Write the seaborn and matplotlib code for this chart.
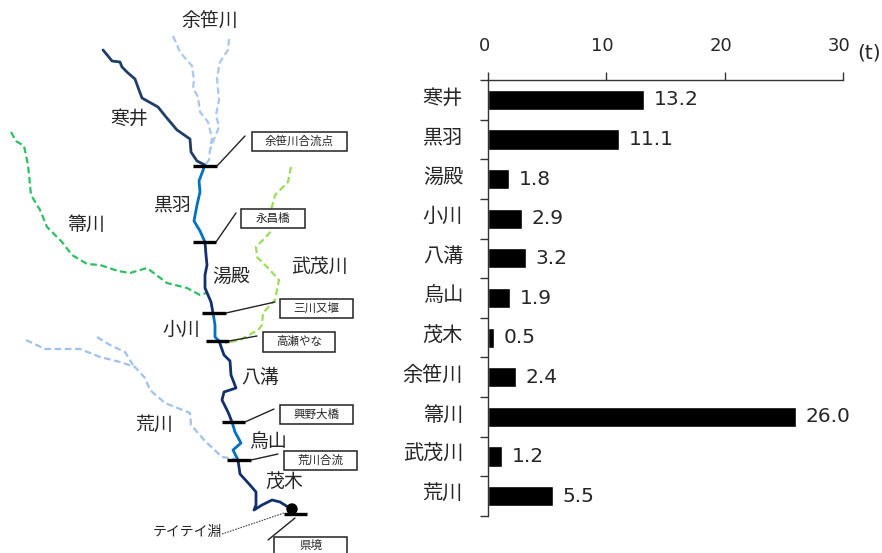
import pandas as pd
import matplotlib.pyplot as plt
import seaborn as sns
from matplotlib.patches import Rectangle, Circle
from matplotlib.transforms import ScaledTranslation

sections = ['寒井', '黒羽', '湯殿', '小川', '八溝', '烏山', '茂木', '余笹川', '箒川', '武茂川', '荒川']
catch = [13.2, 11.1, 1.8, 2.9, 3.2, 1.9, 0.5, 2.4, 26.0, 1.2, 5.5]
x_ticks = [0, 10, 20, 30]

# river courses, in picture pixels
samui = [(103, 50), (108, 56), (112, 61), (120, 62), (122, 67), (128, 73), (135, 79), (139, 90), (142, 98),
         (158, 107), (166, 117), (177, 130), (190, 139), (191, 152), (197, 161), (205, 165)]
kurobane = [(205, 165), (199, 181), (200, 192), (197, 205), (194, 221), (200, 231), (205, 242)]
yudono = [(205, 242), (206, 255), (207, 265), (205, 275), (205, 288), (211, 302), (213, 313)]
ogawa = [(213, 313), (215, 325), (215, 337), (219, 341)]
yamizo = [(219, 341), (224, 355), (230, 361), (231, 375), (236, 388), (224, 392), (222, 400),
          (228, 412), (232, 422)]
karasuyama = [(232, 422), (235, 432), (241, 443), (233, 450), (236, 456), (238, 460)]
motegi = [(238, 460), (240, 474), (250, 485), (256, 492), (256, 505), (254, 510), (262, 505),
          (272, 500), (280, 502), (288, 507)]
yosasa_l = [(173, 36), (180, 52), (192, 66), (194, 80), (193, 88), (198, 97), (200, 112), (208, 122),
            (212, 138), (210, 150), (209, 160), (205, 165)]
yosasa_r = [(229, 39), (228, 50), (220, 62), (217, 78), (219, 100), (216, 115), (219, 127), (213, 142),
            (210, 150)]
houki = [(11, 132), (16, 141), (24, 146), (28, 165), (31, 195), (40, 210), (47, 227), (62, 242),
         (72, 255), (87, 264), (100, 265), (118, 271), (130, 273), (147, 268), (167, 283), (187, 288),
         (200, 295), (206, 293)]
mogawa = [(291, 167), (288, 182), (275, 195), (271, 210), (272, 230), (265, 238), (256, 247), (257, 257),
          (270, 270), (279, 280), (275, 300), (263, 313), (262, 325), (258, 330), (240, 340), (225, 343)]
ara_main = [(26, 340), (45, 349), (80, 349), (100, 357), (120, 362), (135, 367), (145, 378), (150, 390),
            (165, 403), (190, 413), (191, 425), (205, 441), (222, 457), (236, 459)]
ara_sub = [(97, 337), (110, 345), (125, 352), (133, 365)]

solid_rivers = [(samui, '#1f3f66'), (kurobane, '#0070c0'), (yudono, '#12306f'), (ogawa, '#0070c0'),
                (yamizo, '#12306f'), (karasuyama, '#0070c0'), (motegi, '#12306f')]
dashed_rivers = [(yosasa_l, '#a9c8ee'), (yosasa_r, '#a9c8ee'), (houki, '#2fbf62'), (mogawa, '#9ade5a'),
                 (ara_main, '#a0c2ea'), (ara_sub, '#a0c2ea')]

# section bars and their leader lines
bars = [(193, 217, 166), (193, 216, 242), (202, 226, 313), (206, 229, 341), (222, 245, 422),
        (227, 251, 460), (284, 307, 514)]
leaders = [((217, 166), (245, 136)), ((216, 242), (236, 213)), ((226, 313), (275, 302)),
           ((229, 341), (257, 336)), ((245, 422), (274, 409)), ((251, 460), (278, 454)),
           ((295, 518), (268, 540))]
boxes = [('余笹川合流点', 252, 132, 95, 19), ('永昌橋', 241, 209, 64, 19), ('三川又堰', 280, 299, 73, 19),
         ('高瀬やな', 263, 332, 72, 20), ('興野大橋', 280, 405, 73, 19), ('荒川合流', 284, 451, 73, 19),
         ('県境', 274, 537, 73, 30)]
river_names = [('余笹川', 210, 21), ('寒井', 129, 118), ('黒羽', 172, 205), ('箒川', 86, 224), ('湯殿', 231, 276),
               ('武茂川', 320, 266), ('小川', 181, 329), ('八溝', 260, 377), ('荒川', 154, 424), ('烏山', 268, 441),
               ('茂木', 284, 481)]

sns.set_style('white')
plt.rcParams['font.family'] = ['DejaVu Sans', 'Noto Sans CJK JP']
text_color = '#262626'

fig = plt.figure(figsize=(8.82, 5.53), dpi=100)

# left: the map, one axes over the whole figure in pixel units
map_ax = fig.add_axes([0, 0, 1, 1])
map_ax.set_xlim(0, 882)
map_ax.set_ylim(553, 0)
map_ax.axis('off')

for course, colour in dashed_rivers:
    df = pd.DataFrame(course, columns=['x', 'y'])
    sns.lineplot(data=df, x='x', y='y', sort=False, estimator=None, color=colour, linewidth=1.6,
                 linestyle=(0, (3, 1.6)), ax=map_ax)
for course, colour in solid_rivers:
    df = pd.DataFrame(course, columns=['x', 'y'])
    sns.lineplot(data=df, x='x', y='y', sort=False, estimator=None, color=colour, linewidth=2.0,
                 solid_joinstyle='round', ax=map_ax)

for x0, x1, y in bars:
    map_ax.plot([x0, x1], [y, y], color='black', linewidth=2.4, solid_capstyle='butt')
for start, end in leaders:
    map_ax.plot([start[0], end[0]], [start[1], end[1]], color='#222222', linewidth=1.0)

map_ax.add_patch(Circle((292, 509), 5, color='black', zorder=4))
map_ax.plot([222, 284], [534, 513], color='#444444', linewidth=0.8, linestyle=(0, (1.5, 1)))
map_ax.text(187, 532, 'テイテイ淵', fontsize=10, color=text_color, ha='center', va='center')

for label, x, y, w, h in boxes:
    map_ax.add_patch(Rectangle((x, y), w, h, facecolor='white', edgecolor='#222222', linewidth=1.1, zorder=3))
    map_ax.text(x + w / 2, min(y + h / 2, 545), label, fontsize=8.3, color=text_color, ha='center', va='center', zorder=5)

for label, x, y in river_names:
    map_ax.text(x, y, label, fontsize=13.6, color=text_color, ha='center', va='center')

# right: the catch per section
bar_ax = fig.add_axes([488 / 882, 1 - 516 / 553, (843 - 488) / 882, (516 - 80) / 553])
chart_df = pd.DataFrame({'section': sections, 'catch': catch})
sns.barplot(data=chart_df, x='catch', y='section', color='black', saturation=1, width=0.51, ax=bar_ax)

bar_ax.set_xlim(0, 30)
bar_ax.set_ylim(len(sections) - 0.5, -0.5)
bar_ax.set_xlabel('')
bar_ax.set_ylabel('')
bar_ax.set_xticks(x_ticks)
bar_ax.xaxis.tick_top()
bar_ax.tick_params(axis='x', direction='out', length=6, width=1, color='#333333', labelsize=13, pad=12,
                   labelcolor=text_color)
bar_ax.tick_params(axis='y', which='major', length=0, labelsize=14.5, pad=18, labelcolor=text_color)
bar_ax.set_yticks([i - 0.5 for i in range(len(sections) + 1)], minor=True)
bar_ax.tick_params(axis='y', which='minor', left=True, direction='out', length=5.5, width=1, color='#333333')
for side in ['right', 'bottom']:
    bar_ax.spines[side].set_visible(False)
for side in ['top', 'left']:
    bar_ax.spines[side].set_color('#333333')
    bar_ax.spines[side].set_linewidth(1)

# tick labels sit a little off their ticks in the original
x_shift = ScaledTranslation(-4 / 100, 0, fig.dpi_scale_trans)
for tick_label in bar_ax.get_xticklabels():
    tick_label.set_transform(tick_label.get_transform() + x_shift)
y_shift = ScaledTranslation(0, 4 / 100, fig.dpi_scale_trans)
for tick_label in bar_ax.get_yticklabels():
    tick_label.set_transform(tick_label.get_transform() + y_shift)

for i, value in enumerate(catch):
    bar_ax.text(value + 0.8, i, f'{value:.1f}', fontsize=14.5, color=text_color, va='center', ha='left')
bar_ax.text(869, 53, '(t)', fontsize=14.5, color=text_color, ha='center', va='center',
            transform=map_ax.transData)

fig.savefig('out.png', dpi=100)
